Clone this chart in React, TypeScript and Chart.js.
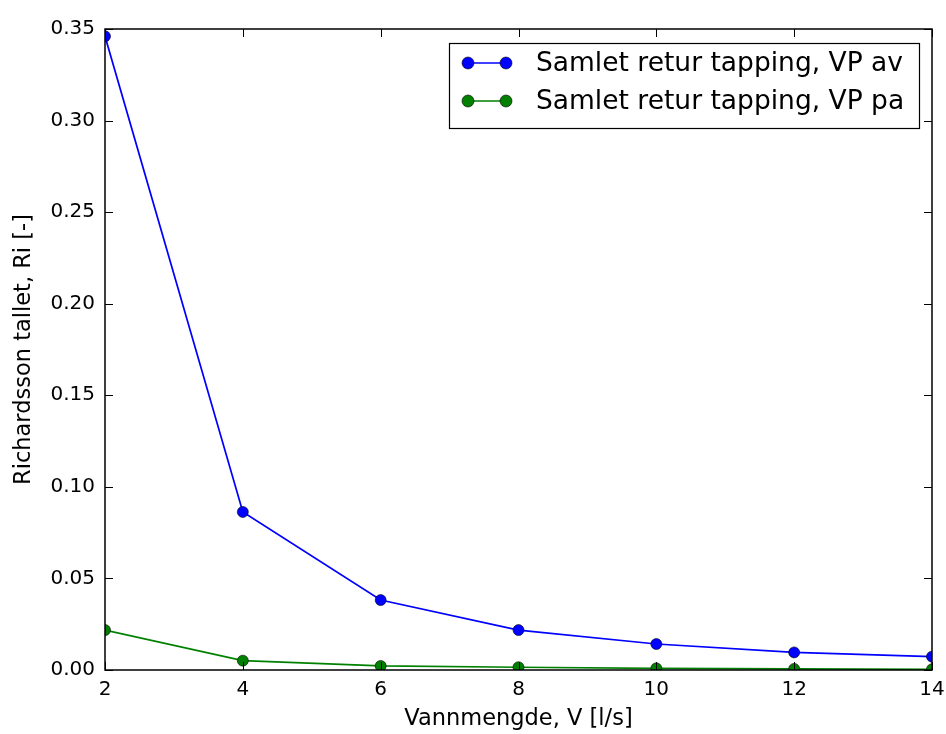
import React, { useEffect, useRef } from "react";
import { Chart, registerables } from "chart.js";

Chart.register(...registerables);

const xValues = [2, 4, 6, 8, 10, 12, 14];
const vpAv = [0.346, 0.0863, 0.0382, 0.0218, 0.0142, 0.0096, 0.0073];
const vpPa = [0.0218, 0.0051, 0.0022, 0.0015, 0.0009, 0.0006, 0.0004];
const seriesLabels = ["Samlet retur tapping, VP av", "Samlet retur tapping, VP pa"];
const seriesColors = ["#0000ff", "#008000"];
const xTitle = "Vannmengde, V [l/s]";
const yTitle = "Richardsson tallet, Ri [-]";

const FONT = "'DejaVu Sans', sans-serif";

const framePlugin = {
  id: "mplFrame",
  afterDraw(chart: any) {
    const ctx = chart.ctx;
    const { left, right, top, bottom } = chart.chartArea;
    const xs = chart.scales.x;
    const ys = chart.scales.y;
    const tl = 8;
    ctx.save();
    ctx.strokeStyle = "#000";
    ctx.lineWidth = 1;
    ctx.beginPath();
    xs.ticks.forEach((t: any) => {
      const px = Math.round(xs.getPixelForValue(t.value)) + 0.5;
      ctx.moveTo(px, bottom);
      ctx.lineTo(px, bottom - tl);
      ctx.moveTo(px, top);
      ctx.lineTo(px, top + tl);
    });
    ys.ticks.forEach((t: any) => {
      const py = Math.round(ys.getPixelForValue(t.value)) + 0.5;
      ctx.moveTo(left, py);
      ctx.lineTo(left + tl, py);
      ctx.moveTo(right, py);
      ctx.lineTo(right - tl, py);
    });
    ctx.stroke();
    ctx.lineWidth = 1.5;
    ctx.strokeRect(left, top, right - left, bottom - top);

    // legend
    const bw = 470;
    const bh = 85;
    const bx = right - 13 - bw;
    const by = top + 14;
    ctx.fillStyle = "#fff";
    ctx.fillRect(bx, by, bw, bh);
    ctx.lineWidth = 1.2;
    ctx.strokeStyle = "#000";
    ctx.strokeRect(bx + 0.5, by + 0.5, bw, bh);
    const rows = [by + 20, by + 58];
    ctx.font = `26.5px ${FONT}`;
    ctx.textBaseline = "middle";
    ctx.textAlign = "left";
    rows.forEach((ry, i) => {
      const x1 = bx + 19;
      const x2 = bx + 57;
      ctx.strokeStyle = seriesColors[i];
      ctx.lineWidth = 1.5;
      ctx.beginPath();
      ctx.moveTo(x1, ry);
      ctx.lineTo(x2, ry);
      ctx.stroke();
      [x1, x2].forEach((mx) => {
        ctx.beginPath();
        ctx.arc(mx, ry, 6, 0, Math.PI * 2);
        ctx.fillStyle = seriesColors[i];
        ctx.fill();
        ctx.strokeStyle = "#000";
        ctx.lineWidth = 0.6;
        ctx.stroke();
      });
      ctx.fillStyle = "#000";
      ctx.fillText(seriesLabels[i], bx + 87, ry + 1);
    });
    ctx.restore();
  },
};

export default function App() {
  const ref = useRef<HTMLCanvasElement | null>(null);
  useEffect(() => {
    if (!ref.current) return;
    const mk = (data: number[], i: number) => ({
      label: seriesLabels[i],
      data: xValues.map((x, j) => ({ x, y: data[j] })),
      borderColor: seriesColors[i],
      backgroundColor: seriesColors[i],
      pointBackgroundColor: seriesColors[i],
      pointBorderColor: "#000",
      pointBorderWidth: 0.6,
      pointRadius: 5.5,
      borderWidth: 1.7,
      tension: 0,
    });
    const chart = new Chart(ref.current, {
      type: "line",
      data: { datasets: [mk(vpAv, 0), mk(vpPa, 1)] },
      options: {
        animation: false,
        responsive: false,
        layout: { padding: { top: 29, right: 14, left: 0, bottom: 0 } },
        plugins: { legend: { display: false }, tooltip: { enabled: false } },
        scales: {
          x: {
            type: "linear",
            min: 2,
            max: 14,
            afterFit: (s: any) => {
              s.height = 64;
              s.paddingLeft = 0;
              s.paddingRight = 0;
            },
            grid: { display: false, drawTicks: false },
            border: { display: false },
            ticks: {
              stepSize: 2,
              padding: 8,
              color: "#000",
              font: { family: FONT, size: 20 },
              maxRotation: 0,
            },
            title: {
              display: true,
              text: xTitle,
              color: "#000",
              font: { family: FONT, size: 22.5 },
              padding: { top: 0, bottom: 1 },
            },
          },
          y: {
            min: 0,
            max: 0.35,
            afterFit: (s: any) => {
              s.width = 105;
              s.paddingTop = 0;
              s.paddingBottom = 0;
            },
            grid: { display: false, drawTicks: false },
            border: { display: false },
            ticks: {
              stepSize: 0.05,
              padding: 10,
              color: "#000",
              font: { family: FONT, size: 20 },
              callback: (v: any) => Number(v).toFixed(2),
            },
            title: {
              display: true,
              text: yTitle,
              color: "#000",
              font: { family: FONT, size: 22.5 },
              padding: { top: 11, bottom: 0 },
            },
          },
        },
      },
      plugins: [framePlugin],
    });
    return () => chart.destroy();
  }, []);
  return (
    <div style={{ position: "fixed", left: 0, top: 0, width: 946, height: 734, background: "#fff" }}>
      <canvas ref={ref} width={946} height={734} />
    </div>
  );
}
